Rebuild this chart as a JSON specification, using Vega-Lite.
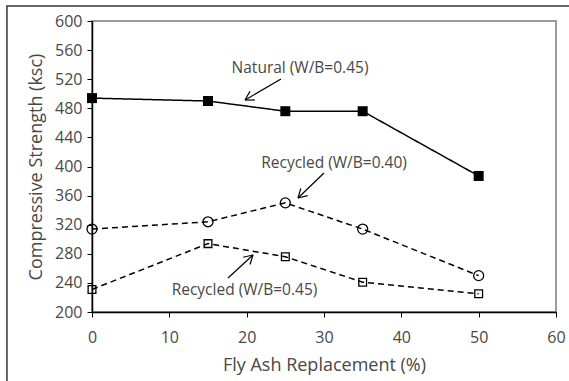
{
  "$schema": "https://vega.github.io/schema/vega-lite/v6.json",
  "width": 464,
  "height": 291,
  "autosize": {"type": "none"},
  "padding": {"left": 92, "top": 21, "right": 13, "bottom": 69},
  "background": "white",
  "config": {
    "font": "Open Sans",
    "view": {"stroke": "#9a9a9a", "strokeWidth": 2},
    "axis": {
      "domainColor": "black", "domainWidth": 1.5,
      "tickColor": "black", "tickWidth": 1, "tickSize": 5,
      "labelFont": "Open Sans", "labelFontSize": 16, "labelColor": "#484848",
      "labelOverlap": false, "labelFlush": false,
      "titleFont": "Open Sans", "titleFontSize": 18, "titleFontWeight": "normal", "titleColor": "#484848",
      "grid": false
    }
  },
  "datasets": {
    "series": [
      {"fa": 0, "ksc": 494, "series": "Natural (W/B=0.45)"},
      {"fa": 15, "ksc": 490, "series": "Natural (W/B=0.45)"},
      {"fa": 25, "ksc": 476, "series": "Natural (W/B=0.45)"},
      {"fa": 35, "ksc": 476, "series": "Natural (W/B=0.45)"},
      {"fa": 50, "ksc": 387, "series": "Natural (W/B=0.45)"},
      {"fa": 0, "ksc": 314, "series": "Recycled (W/B=0.40)"},
      {"fa": 15, "ksc": 324, "series": "Recycled (W/B=0.40)"},
      {"fa": 25, "ksc": 350, "series": "Recycled (W/B=0.40)"},
      {"fa": 35, "ksc": 314, "series": "Recycled (W/B=0.40)"},
      {"fa": 50, "ksc": 250, "series": "Recycled (W/B=0.40)"},
      {"fa": 0, "ksc": 231, "series": "Recycled (W/B=0.45)"},
      {"fa": 15, "ksc": 294, "series": "Recycled (W/B=0.45)"},
      {"fa": 25, "ksc": 276, "series": "Recycled (W/B=0.45)"},
      {"fa": 35, "ksc": 241, "series": "Recycled (W/B=0.45)"},
      {"fa": 50, "ksc": 225, "series": "Recycled (W/B=0.45)"}
    ],
    "frame": [{"fa": -11.0, "ksc": 620.6, "fa2": 62.5, "ksc2": 100}],
    "arrows": [
      {"fa": 24.44, "ksc": 520.3, "fa2": 19.79, "ksc2": 491.4},
      {"fa": 19.79, "ksc": 491.4, "fa2": 21.08, "ksc2": 491.4},
      {"fa": 19.79, "ksc": 491.4, "fa2": 20.43, "ksc2": 503.4},
      {"fa": 30.0, "ksc": 391.1, "fa2": 26.64, "ksc2": 356.7},
      {"fa": 26.64, "ksc": 356.7, "fa2": 27.89, "ksc2": 360.0},
      {"fa": 26.64, "ksc": 356.7, "fa2": 27.0, "ksc2": 369.9},
      {"fa": 17.59, "ksc": 246.7, "fa2": 20.82, "ksc2": 278.4},
      {"fa": 20.82, "ksc": 278.4, "fa2": 19.55, "ksc2": 275.3},
      {"fa": 20.82, "ksc": 278.4, "fa2": 20.43, "ksc2": 265.3}
    ],
    "labels": [
      {"fa": 26.9, "ksc": 535.4, "text": "Natural (W/B=0.45)"},
      {"fa": 31.3, "ksc": 404.8, "text": "Recycled (W/B=0.40)"},
      {"fa": 19.72, "ksc": 230.2, "text": "Recycled (W/B=0.45)"}
    ]
  },
  "encoding": {
    "x": {"field": "fa", "type": "quantitative", "title": "Fly Ash Replacement (%)",
          "scale": {"domain": [0, 60], "nice": false, "zero": false},
          "axis": {"values": [0, 10, 20, 30, 40, 50, 60], "labelPadding": 12, "titlePadding": 11, "labelOverlap": false}},
    "y": {"field": "ksc", "type": "quantitative", "title": "Compressive Strength (ksc)",
          "scale": {"domain": [200, 600], "nice": false, "zero": false},
          "axis": {"values": [200, 240, 280, 320, 360, 400, 440, 480, 520, 560, 600], "labelPadding": 5, "titlePadding": 9, "labelOverlap": false}}
  },
  "layer": [
    {
      "data": {"name": "frame"},
      "mark": {"type": "rect", "fill": null, "stroke": "#333333", "strokeWidth": 1.5, "clip": false},
      "encoding": {
        "x2": {"field": "fa2"},
        "y2": {"field": "ksc2"}
      }
    },
    {
      "data": {"name": "series"},
      "mark": {"type": "line", "color": "black", "strokeWidth": 1.5},
      "encoding": {
        "detail": {"field": "series"},
        "strokeDash": {"field": "series", "type": "nominal", "legend": null,
                       "scale": {"domain": ["Natural (W/B=0.45)", "Recycled (W/B=0.40)", "Recycled (W/B=0.45)"],
                                 "range": [[1, 0], [6, 4], [6, 4]]}}
      }
    },
    {
      "data": {"name": "series"},
      "transform": [{"filter": "datum.series === 'Natural (W/B=0.45)'"}],
      "mark": {"type": "square", "size": 100, "color": "black", "filled": true, "opacity": 1},
      "encoding": {}
    },
    {
      "data": {"name": "series"},
      "transform": [{"filter": "datum.series === 'Recycled (W/B=0.40)'"}],
      "mark": {"type": "point", "shape": "circle", "size": 100, "stroke": "black", "strokeWidth": 1.3, "filled": false, "opacity": 1},
      "encoding": {}
    },
    {
      "data": {"name": "series"},
      "transform": [{"filter": "datum.series === 'Recycled (W/B=0.45)'"}],
      "mark": {"type": "point", "shape": "square", "size": 60, "stroke": "black", "strokeWidth": 1.3, "filled": false, "opacity": 1},
      "encoding": {}
    },
    {
      "data": {"name": "arrows"},
      "mark": {"type": "rule", "color": "black", "strokeWidth": 1.2},
      "encoding": {
        "x2": {"field": "fa2"},
        "y2": {"field": "ksc2"}
      }
    },
    {
      "data": {"name": "labels"},
      "mark": {"type": "text", "font": "Open Sans", "fontSize": 15.5, "color": "#484848", "align": "center", "baseline": "middle"},
      "encoding": {
        "text": {"field": "text"}
      }
    }
  ]
}
